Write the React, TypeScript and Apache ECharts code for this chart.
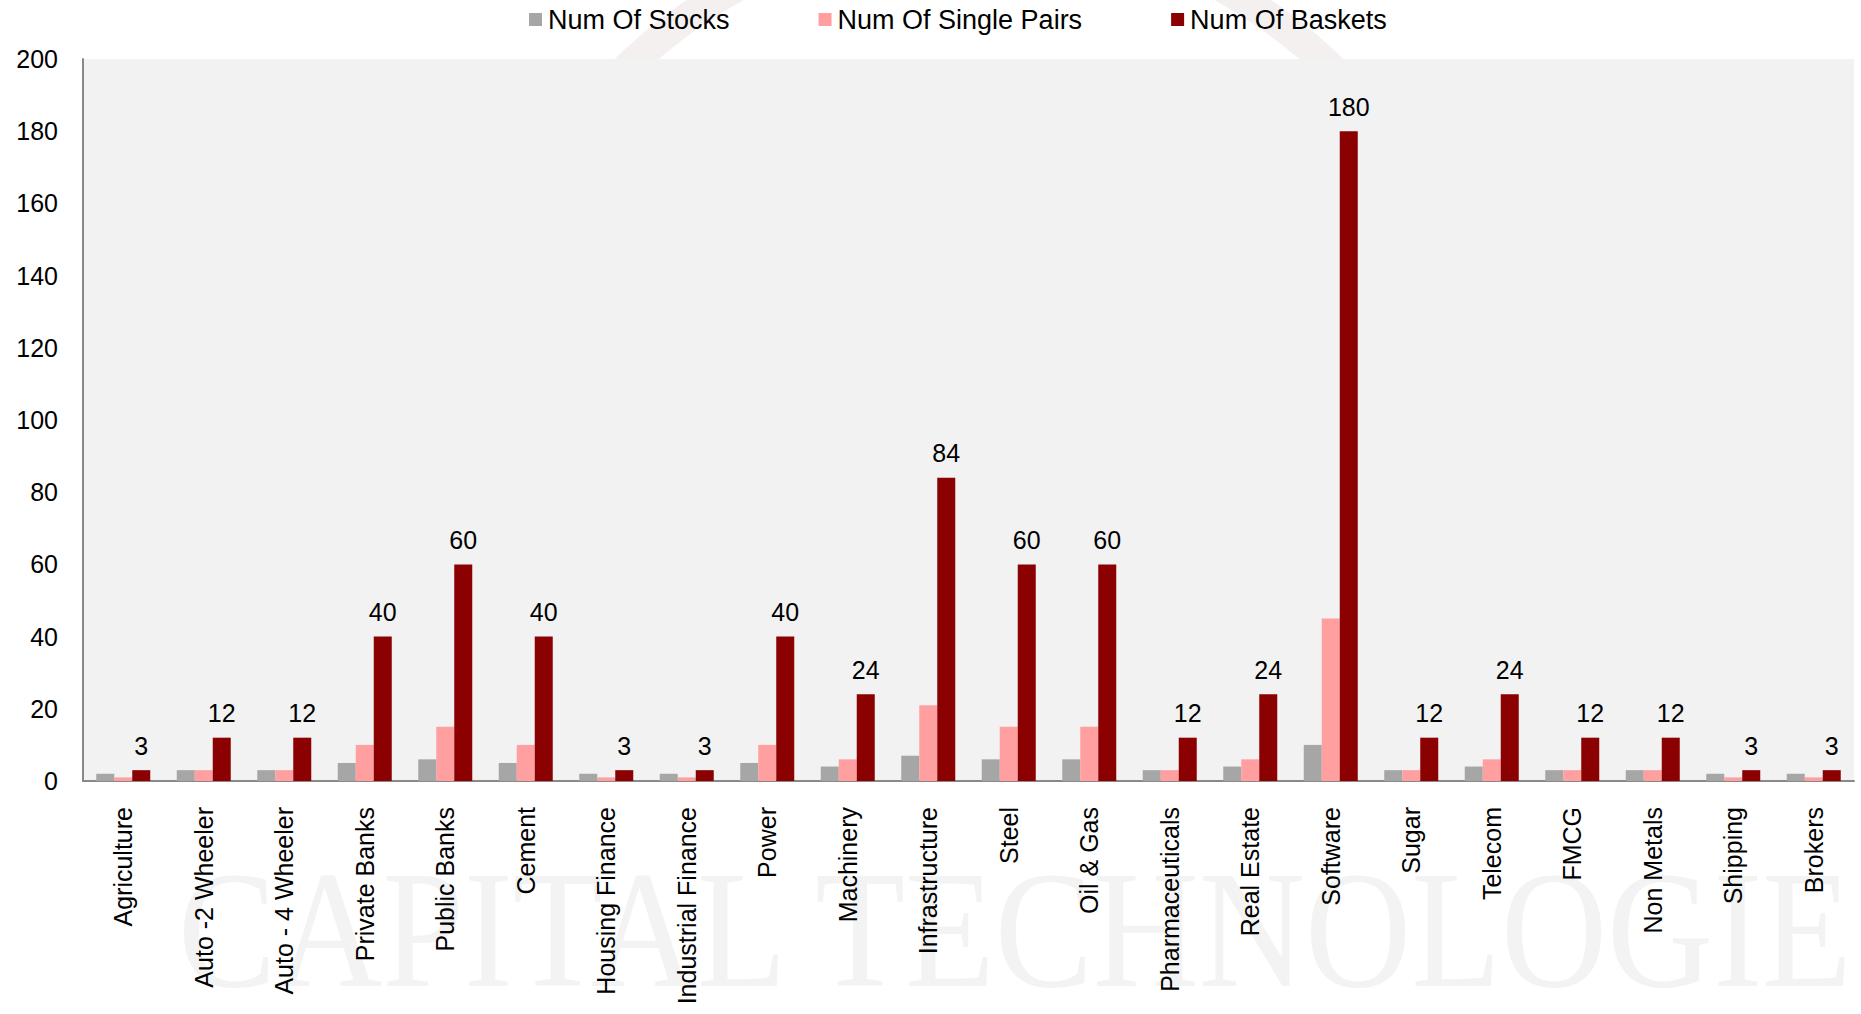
import React, { useEffect, useRef } from "react";
import * as echarts from "echarts";

const categories = [
  "Agriculture", "Auto -2 Wheeler", "Auto - 4 Wheeler", "Private Banks", "Public Banks",
  "Cement", "Housing Finance", "Industrial Finance", "Power", "Machinery",
  "Infrastructure", "Steel", "Oil & Gas", "Pharmaceuticals", "Real Estate",
  "Software", "Sugar", "Telecom", "FMCG", "Non Metals", "Shipping", "Brokers",
];
const numStocks = [2, 3, 3, 5, 6, 5, 2, 2, 5, 4, 7, 6, 6, 3, 4, 10, 3, 4, 3, 3, 2, 2];
const numSinglePairs = [1, 3, 3, 10, 15, 10, 1, 1, 10, 6, 21, 15, 15, 3, 6, 45, 3, 6, 3, 3, 1, 1];
const numBaskets = [3, 12, 12, 40, 60, 40, 3, 3, 40, 24, 84, 60, 60, 12, 24, 180, 12, 24, 12, 12, 3, 3];
const seriesNames = ["Num Of Stocks", "Num Of Single Pairs", "Num Of Baskets"];
const yTicks = { min: 0, max: 200, interval: 20 };

const FONT = "Arial, 'Liberation Sans', sans-serif";

export default function App() {
  const ref = useRef<HTMLDivElement>(null);
  useEffect(() => {
    if (!ref.current) return;
    const chart = echarts.init(ref.current, null, { renderer: "svg" });
    chart.setOption({
      animation: false,
      backgroundColor: "#ffffff",
      textStyle: { fontFamily: FONT },
      graphic: [
        {
          type: "arc",
          z: -10,
          silent: true,
          shape: { cx: 979, cy: 430, r: 505, startAngle: Math.PI * 1.1, endAngle: Math.PI * 1.9, clockwise: true },
          style: { stroke: "#f5f0f0", lineWidth: 30, fill: null },
        },
        {
          type: "text",
          z: -10,
          silent: true,
          x: 178,
          y: 846,
          scaleX: 0.88,
          style: {
            text: "CAPITAL TECHNOLOGIES",
            font: "167px 'Liberation Serif', 'Times New Roman', serif",
            fill: "#f3f3f3",
          },
        },
      ],
      legend: {
        data: seriesNames,
        left: 529,
        top: 6,
        padding: 0,
        itemWidth: 13,
        itemHeight: 13,
        itemGap: 89,
        icon: "rect",
        textStyle: { fontSize: 27, color: "#000", fontFamily: FONT, padding: [0, 0, 0, 1] },
      },
      grid: { left: 83, right: 7, top: 59, bottom: 233, show: true, backgroundColor: "#f2f2f2", borderWidth: 0 },
      xAxis: {
        type: "category",
        data: categories,
        axisTick: { show: false },
        axisLine: { lineStyle: { color: "#898989", width: 2 } },
        axisLabel: { rotate: 90, interval: 0, margin: 26, fontSize: 25, color: "#000", fontFamily: FONT },
      },
      yAxis: {
        type: "value",
        min: yTicks.min,
        max: yTicks.max,
        interval: yTicks.interval,
        splitLine: { show: false },
        axisTick: { show: false },
        axisLine: { show: true, lineStyle: { color: "#898989", width: 2 } },
        axisLabel: { fontSize: 25, color: "#000", margin: 25, fontFamily: FONT },
      },
      series: [
        {
          name: seriesNames[0],
          type: "bar",
          data: numStocks,
          barWidth: 18,
          barGap: "0%",
          itemStyle: { color: "#a6a6a6" },
        },
        {
          name: seriesNames[1],
          type: "bar",
          data: numSinglePairs,
          barWidth: 18,
          barGap: "0%",
          itemStyle: { color: "#ff9f9f" },
        },
        {
          name: seriesNames[2],
          type: "bar",
          data: numBaskets,
          barWidth: 18,
          barGap: "0%",
          itemStyle: { color: "#8b0000" },
          label: { show: true, position: "top", distance: 12, fontSize: 25, color: "#000", fontFamily: FONT },
        },
      ],
    });
    return () => chart.dispose();
  }, []);
  return (
    <div
      ref={ref}
      style={{ position: "fixed", left: 0, top: 0, width: 1861, height: 1014 }}
    />
  );
}
